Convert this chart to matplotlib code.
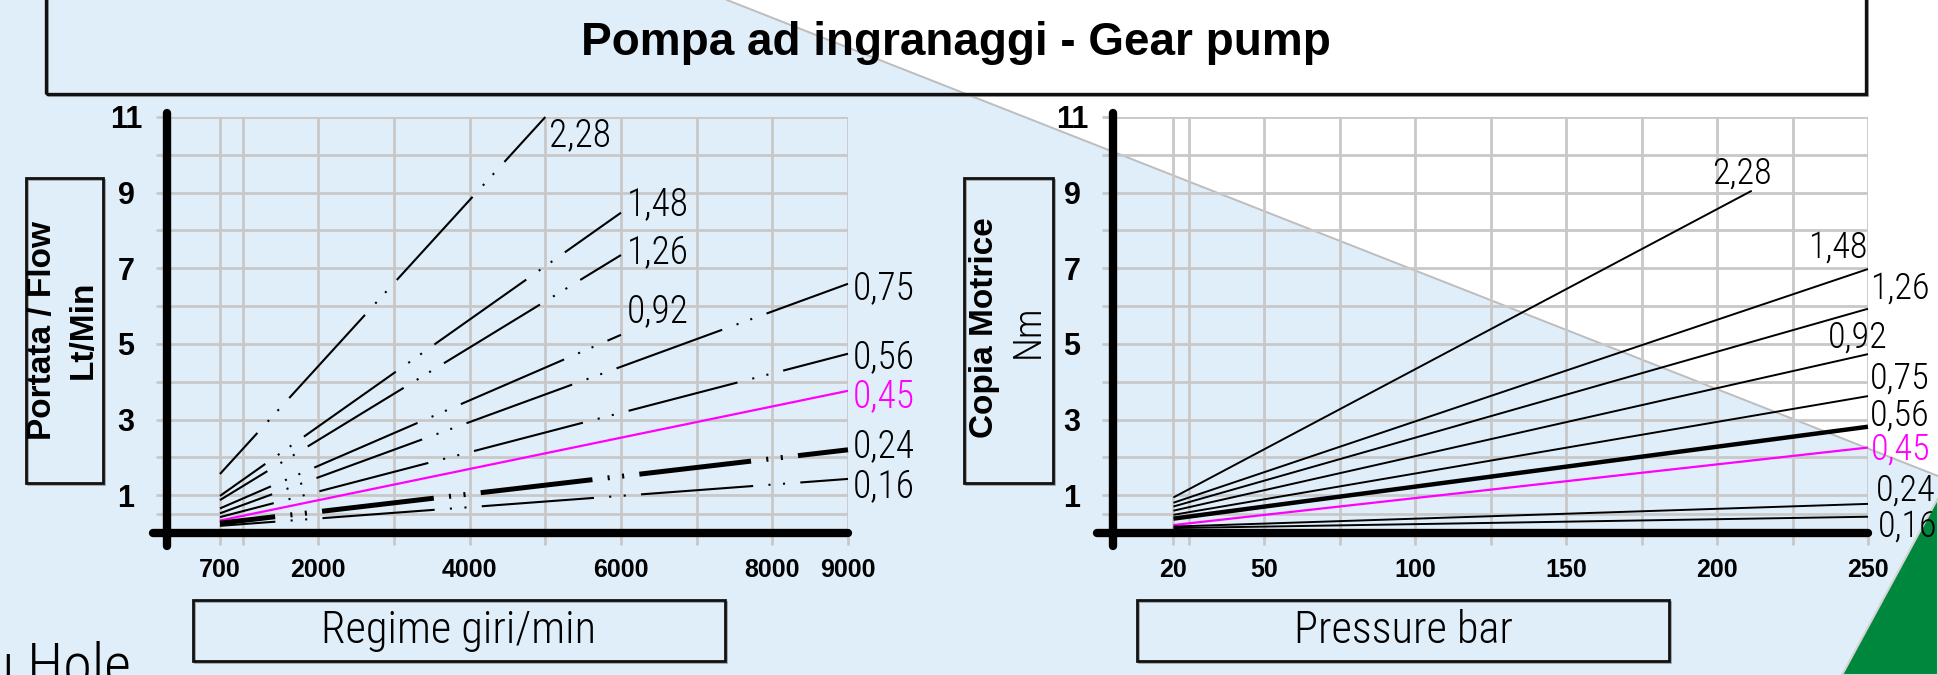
import matplotlib
matplotlib.use("Agg")
import matplotlib.pyplot as plt
from matplotlib.patches import Polygon, Rectangle
from matplotlib.lines import Line2D

# --- dati ---
labels = ["2,28", "1,48", "1,26", "0,92", "0,75", "0,56", "0,45", "0,24", "0,16"]

# portata (Lt/min) in funzione del regime (giri/min)
rpm_start = [700, 700, 700, 700, 700, 700, 700, 700, 700]
rpm_end = [5000, 6000, 6000, 6000, 9000, 9000, 9000, 9000, 9000]
flow_start = [1.56, 0.98, 0.87, 0.65, 0.52, 0.42, 0.33, 0.26, 0.19]
flow_end = [11.0, 8.47, 7.35, 5.24, 6.59, 4.74, 3.76, 2.20, 1.43]

# coppia motrice (Nm) in funzione della pressione (bar)
bar_start = [20, 20, 20, 20, 20, 20, 20, 20, 20]
bar_end = [211.5, 250, 250, 250, 250, 250, 250, 250, 250]
torque_start = [0.94, 0.80, 0.70, 0.59, 0.48, 0.38, 0.21, 0.17, 0.13]
torque_end = [9.05, 6.98, 5.93, 4.73, 3.62, 2.81, 2.26, 0.77, 0.43]

rpm_ticks = [700, 1000, 2000, 3000, 4000, 5000, 6000, 7000, 8000, 9000]
rpm_ticklabels = ["700", "", "2000", "", "4000", "", "6000", "", "8000", "9000"]
bar_ticks = [20, 25, 50, 75, 100, 125, 150, 175, 200, 225, 250]
bar_ticklabels = ["20", "", "50", "", "100", "", "150", "", "200", "", "250"]
y_ticks = [0.5, 1, 2, 3, 4, 5, 6, 7, 8, 9, 10, 11]
y_ticklabels = ["", "1", "", "3", "", "5", "", "7", "", "9", "", "11"]

# --- stile ---
W, H = 1938, 675
BLUE = "#e0eef9"
GRID = "#c8c8c8"
MAGENTA = "#ff00ff"
GREEN = "#00873e"
NARROW = ["Roboto Condensed", "Roboto", "DejaVu Sans"]
BOLD = ["Liberation Sans", "DejaVu Sans"]
PT = 0.72  # px -> pt a 100 dpi

colors = ["k", "k", "k", "k", "k", "k", MAGENTA, "k", "k"]
left_lw = [1.5, 1.5, 1.5, 1.5, 1.5, 1.5, 1.6, 3.6, 1.5]
right_lw = [1.4, 1.4, 1.4, 1.4, 1.4, 3.2, 1.6, 1.4, 1.4]
dashdotdot = (41, (81, 11, 1.5, 9, 1.5, 11))
left_ls = [dashdotdot] * 6 + ["-"] + [dashdotdot] * 2
left_off = [(4, -18), (6, 8), (6, 3), (6, 23), (5, -5), (5, -4), (5, -6), (5, 3), (5, -8)]
right_off = [(-40, 17), (-1, 21), (2, 20), (-40, 17), (2, 18), (2, 11), (3, -2), (8, 13), (10, -10)]
right_ha = ["left", "right", "left", "left", "left", "left", "left", "left", "left"]

plt.rcParams["lines.scale_dashes"] = False

fig = plt.figure(figsize=(W / 100, H / 100), dpi=100)
fig.patch.set_facecolor("white")


def fx(px):
    return px / W


def fy(py):
    return 1 - py / H


def box(x0, y0, x1, y1, lw=2.0):
    fig.add_artist(Rectangle((fx(x0) + 2 / W, fy(y1) - 2 / H), (x1 - x0) / W, (y1 - y0) / H,
                             transform=fig.transFigure, fill=False, edgecolor="#9a9a9a",
                             lw=1.2, zorder=3))
    fig.add_artist(Rectangle((fx(x0), fy(y1)), (x1 - x0) / W, (y1 - y0) / H,
                             transform=fig.transFigure, fill=False, edgecolor="#111111",
                             lw=lw, zorder=4))


# sfondo
fig.add_artist(Polygon([(0, 1), (fx(727), 1), (1, fy(476)), (1, 0), (0, 0)],
                       closed=True, transform=fig.transFigure, facecolor=BLUE,
                       edgecolor="none", zorder=-3))
fig.add_artist(Line2D([fx(727), 1], [1, fy(476)], transform=fig.transFigure,
                      color="#bdbdbd", lw=1.4, zorder=-2))
fig.add_artist(Polygon([(1, fy(498)), (1, 0), (fx(1842), 0)], closed=True,
                       transform=fig.transFigure, facecolor=GREEN,
                       edgecolor="#d4d4d4", lw=1.5, zorder=-2))

# titolo
box(46, -20, 1866, 94, lw=2.4)
fig.text(fx(956), fy(55), "Pompa ad ingranaggi - Gear pump", ha="center", va="baseline",
         fontsize=33, fontweight="bold", family=BOLD, zorder=5)


def setup(ax, xlim, xticks, xticklabels):
    ax.set_facecolor("none")
    ax.set_xlim(*xlim)
    ax.set_ylim(0, 11)
    for s in ax.spines.values():
        s.set_visible(False)
    ax.tick_params(axis="x", length=12 * PT, width=2, color=GRID, pad=13 * PT, labelsize=18)
    ax.tick_params(axis="y", length=11 * PT, width=2, color=GRID, pad=30 * PT, labelsize=22)
    ax.set_xticks(xticks)
    ax.set_xticklabels(xticklabels)
    ax.set_yticks(y_ticks)
    ax.set_yticklabels(y_ticklabels)
    for t in ax.get_xticklabels() + ax.get_yticklabels():
        t.set_fontweight("bold")
        t.set_family(BOLD)
    for t in ax.get_yticklabels():
        t.set_horizontalalignment("center")
    ax.grid(True, color=GRID, lw=2)
    ax.set_axisbelow(True)
    ax.axvline(xlim[0], ymin=-13 / 416, ymax=1 + 4 / 416, color="k", lw=6,
               solid_capstyle="round", clip_on=False, zorder=6)
    ax.axhline(0, xmin=-14 / 681, xmax=1.0, color="k", lw=6,
               solid_capstyle="round", clip_on=False, zorder=6)


# grafico portata
ax1 = fig.add_axes([fx(167), fy(533), (848 - 167) / W, (533 - 117) / H])
setup(ax1, (0, 9000), rpm_ticks, rpm_ticklabels)
for i, lab in enumerate(labels):
    ax1.plot([rpm_start[i], rpm_end[i]], [flow_start[i], flow_end[i]], color=colors[i],
             lw=left_lw[i], linestyle=left_ls[i], dash_capstyle="butt",
             solid_capstyle="butt", clip_on=False, zorder=4)
    ax1.annotate(lab, xy=(rpm_end[i], flow_end[i]),
                 xytext=(left_off[i][0] * PT, left_off[i][1] * PT),
                 textcoords="offset points", ha="left", va="center", fontweight="light",
                 fontsize=27, family=NARROW, color=colors[i], annotation_clip=False)

# grafico coppia
ax2 = fig.add_axes([fx(1113), fy(533), (1868 - 1113) / W, (533 - 117) / H])
setup(ax2, (0, 250), bar_ticks, bar_ticklabels)
for i, lab in enumerate(labels):
    ax2.plot([bar_start[i], bar_end[i]], [torque_start[i], torque_end[i]], color=colors[i],
             lw=right_lw[i], solid_capstyle="butt", clip_on=False, zorder=4)
    ax2.annotate(lab, xy=(bar_end[i], torque_end[i]),
                 xytext=(right_off[i][0] * PT, right_off[i][1] * PT),
                 textcoords="offset points", ha=right_ha[i], va="center", fontweight="light",
                 fontsize=26, family=NARROW, color=colors[i], annotation_clip=False)

# etichette assi
box(26, 178, 103, 483)
fig.text(fx(43), fy(330), "Portata / Flow", rotation=90, ha="center", va="center",
         fontsize=24, fontweight="bold", family=BOLD, zorder=5)
fig.text(fx(83), fy(330), "Lt/Min", rotation=90, ha="center", va="center",
         fontsize=24, fontweight="bold", family=BOLD, zorder=5)

box(964, 178, 1053, 483)
fig.text(fx(984), fy(328), "Copia Motrice", rotation=90, ha="center", va="center",
         fontsize=24, fontweight="bold", family=BOLD, zorder=5)
fig.text(fx(1028), fy(331), "Nm", rotation=90, ha="center", va="center",
         fontsize=28, fontweight="light", family=NARROW, zorder=5)

box(193, 600, 725, 661)
fig.text(fx(459), fy(631), "Regime giri/min", ha="center", va="center",
         fontsize=32, fontweight="light", family=NARROW, zorder=5)
box(1137, 600, 1669, 661)
fig.text(fx(1403), fy(631), "Pressure bar", ha="center", va="center",
         fontsize=32, fontweight="light", family=NARROW, zorder=5)

fig.text(fx(-14), fy(683), "u Hole", ha="left", va="baseline",
         fontsize=42, fontweight="light", family=NARROW, zorder=5)

fig.savefig("out.png", dpi=100)
